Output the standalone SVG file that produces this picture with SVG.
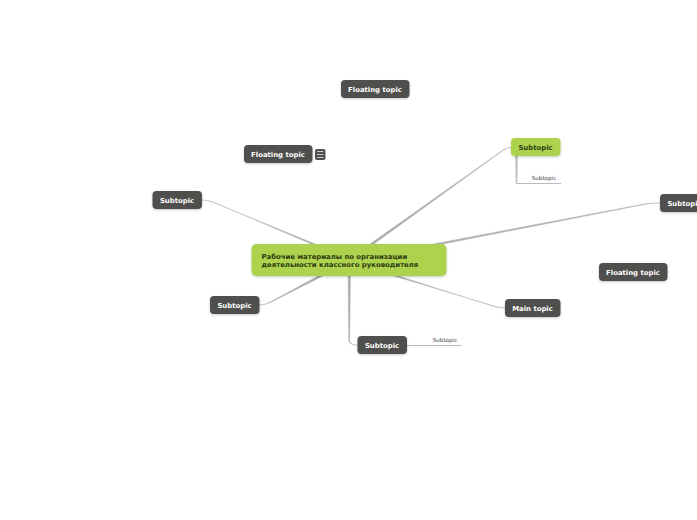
<svg xmlns="http://www.w3.org/2000/svg" width="697" height="520" viewBox="0 0 697 520">
<defs>
<style>
text{font-family:"DejaVu Sans","Liberation Sans",sans-serif;font-weight:700;font-size:6.9px;}
.dark{fill:#504f4d;}
.lab{fill:#fff;text-anchor:middle;}
.small{fill:#444;font-weight:400;font-size:5.600px;text-anchor:middle;}
.taper{fill:#aaa;stroke:#bbb;stroke-width:.5;}
.line{fill:none;stroke:#bbb;stroke-width:1;}
</style>
<filter id="s" x="-10%" y="-20%" width="120%" height="150%"><feDropShadow dx="0" dy="1" stdDeviation="1" flood-color="#000" flood-opacity=".22"/></filter>
</defs>
<rect width="697" height="520" fill="#fff"/>
<g id="connectors">
<path class="taper" d="M312.500 244.500L212 201.500Q207 200 202 200Q207 200.200 211.600 201.800L316.500 244.500Z"/>
<path class="taper" d="M368.500 245L503 150Q507 147.500 511 147.500Q507 147.700 503.300 150.300L372.500 245Z"/>
<path class="taper" d="M428 245L648 203.300Q654 203 660 203Q654 203.200 648 203.800L438 245Z"/>
<path class="taper" d="M392 275.500L494 306Q500 308 505 308Q500 308.200 494 306.500L397 275.500Z"/>
<path class="taper" d="M320 275L270 302Q265 305 259 305Q265 305.200 270.300 302.600L325 275Z"/>
<path class="taper" d="M348 276L348.700 340Q349 345 357 345.300Q350 345 349.700 340L350.500 276Z"/>
<path class="line" d="M406 345.500H462"/>
<path d="M516.500 183.500H561" fill="none" stroke="#bbb" stroke-width="1"/>
<path class="taper" style="fill:#c0c0c0" d="M515.500 156L516 183.500H517L517.500 156Z"/>
</g>
<g id="root"><rect x="251.500" y="244" width="195" height="32" rx="5" fill="#add24e" filter="url(#s)"/>
<text x="261.500" y="259" fill="#2e3b12">Рабочие материалы по организации</text><text x="261.500" y="267" fill="#2e3b12">деятельности классного руководителя</text></g>
<g id="floating1"><rect class="dark" x="341" y="80" width="68.500" height="18" rx="4" filter="url(#s)"/><text class="lab" x="375" y="92">Floating topic</text></g>
<g id="floating2"><rect class="dark" x="244" y="145" width="68.500" height="18" rx="4" filter="url(#s)"/><text class="lab" x="278" y="157">Floating topic</text>
<rect class="dark" x="315" y="149" width="10.500" height="11" rx="2"/><path d="M317 151.500h6.500M317 154.500h6.500M317 157.500h6.500" stroke="#fff" stroke-width=".7" fill="none"/></g>
<g id="floating3"><rect class="dark" x="599" y="263" width="68.500" height="18" rx="4" filter="url(#s)"/><text class="lab" x="633" y="275">Floating topic</text></g>
<g id="subtopic-left"><rect class="dark" x="152.500" y="191" width="49.500" height="18" rx="4" filter="url(#s)"/><text class="lab" x="177" y="203">Subtopic</text></g>
<g id="subtopic-green"><rect x="511" y="138" width="49.500" height="18" rx="4" fill="#add24e" filter="url(#s)"/><text class="lab" x="535.500" y="150" style="fill:#2e3b12">Subtopic</text></g>
<g id="subtopic-green-child"><text class="small" x="544" y="180">Subtopic</text></g>
<g id="subtopic-right"><rect class="dark" x="660" y="194" width="49.500" height="18" rx="4" filter="url(#s)"/><text class="lab" x="684.500" y="206">Subtopic</text></g>
<g id="main-topic"><rect class="dark" x="505" y="299" width="55.500" height="18" rx="4" filter="url(#s)"/><text class="lab" x="532.500" y="311">Main topic</text></g>
<g id="subtopic-lower-left"><rect class="dark" x="210" y="296" width="49.500" height="18" rx="4" filter="url(#s)"/><text class="lab" x="234.500" y="308">Subtopic</text></g>
<g id="subtopic-bottom"><rect class="dark" x="357.500" y="336" width="49.500" height="18" rx="4" filter="url(#s)"/><text class="lab" x="382" y="348">Subtopic</text></g>
<g id="subtopic-bottom-child"><text class="small" x="445" y="342">Subtopic</text></g>
</svg>
